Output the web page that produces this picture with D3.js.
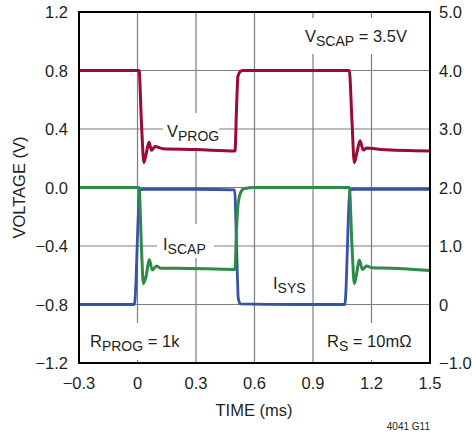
<!DOCTYPE html>
<html><head><meta charset="utf-8">
<script src="https://cdn.jsdelivr.net/npm/d3@7"></script>
<style>
body{margin:0;background:#fff;}
text{font-family:"Liberation Sans",Arial,sans-serif;fill:#231f20;}
</style></head>
<body><svg id="c" width="472" height="435"></svg>
<script>
// Data
const xTicks = [-0.3, 0, 0.3, 0.6, 0.9, 1.2, 1.5];
const xTickLabels = ["\u22120.3","0","0.3","0.6","0.9","1.2","1.5"];
const yLeftTicks = [1.2, 0.8, 0.4, 0, -0.4, -0.8, -1.2];
const yLeftLabels = ["1.2","0.8","0.4","0.0","\u22120.4","\u22120.8","\u22121.2"];
const yRightTicks = [5, 4, 3, 2, 1, 0, -1];
const yRightLabels = ["5.0","4.0","3.0","2.0","1.0","0","\u22121.0"];

const vprogT = [-0.3,0.008,0.02,0.033,0.046,0.059,0.072,0.09,0.13,0.3,0.5,0.508,0.515,0.525,0.539,0.6,1.086,1.1,1.112,1.127,1.141,1.158,1.175,1.25,1.5];
const vprogV = [0.8,0.8,0.45,0.17,0.24,0.31,0.255,0.28,0.265,0.26,0.25,0.55,0.76,0.79,0.8,0.8,0.8,0.45,0.17,0.25,0.32,0.256,0.27,0.26,0.25];

const iscapT = [-0.3,0.008,0.02,0.03,0.045,0.06,0.076,0.098,0.12,0.2,0.5,0.508,0.517,0.53,0.545,0.6,1.086,1.1,1.112,1.125,1.137,1.154,1.175,1.2,1.3,1.5];
const iscapV = [2.0,2.0,1.0,0.36,0.5,0.77,0.59,0.66,0.62,0.62,0.6,1.3,1.75,1.92,1.98,2.0,2.0,1.0,0.36,0.55,0.76,0.6,0.66,0.63,0.62,0.58];

const isysT = [-0.3,-0.016,0.012,0.03,0.3,0.498,0.508,0.517,0.528,0.8,1.063,1.09,1.11,1.5];
const isysV = [0,0,1.95,1.97,1.97,1.96,1.0,0.1,0.01,0,0,1.96,1.97,1.97];

const svg = d3.select("#c");
const L=79, R=430, T=12, B=363;
const x = d3.scaleLinear().domain([-0.3,1.5]).range([L,R]);
const yL = d3.scaleLinear().domain([-1.2,1.2]).range([B,T]);
const yR = d3.scaleLinear().domain([-1,5]).range([B,T]);

// grid
const g = svg.append("g");
xTicks.forEach(t=>{ g.append("line").attr("x1",x(t)).attr("x2",x(t)).attr("y1",T).attr("y2",B).attr("stroke","#7d7d7d").attr("stroke-width",1.2); });
yLeftTicks.forEach(t=>{ g.append("line").attr("x1",L).attr("x2",R).attr("y1",yL(t)).attr("y2",yL(t)).attr("stroke","#7d7d7d").attr("stroke-width",1.2); });

// label masks
const masks = [[302,18,108,36],[163,113,56,36],[157,224,57,34],[268,268,44,30],[86,323,96,37],[322,323,96,37]];
masks.forEach(m=>svg.append("rect").attr("x",m[0]).attr("y",m[1]).attr("width",m[2]).attr("height",m[3]).attr("fill","#fff"));

// traces
const lineL = d3.line().x(d=>x(d[0])).y(d=>yL(d[1])).curve(d3.curveMonotoneX);
const lineR = d3.line().x(d=>x(d[0])).y(d=>yR(d[1])).curve(d3.curveMonotoneX);
svg.append("path").attr("d",lineR(isysT.map((t,i)=>[t,isysV[i]]))).attr("fill","none").attr("stroke","#3852a4").attr("stroke-width",2.8).attr("stroke-linejoin","round");
svg.append("path").attr("d",lineR(iscapT.map((t,i)=>[t,iscapV[i]]))).attr("fill","none").attr("stroke","#2e8a47").attr("stroke-width",3).attr("stroke-linejoin","round");
svg.append("path").attr("d",lineL(vprogT.map((t,i)=>[t,vprogV[i]]))).attr("fill","none").attr("stroke","#9a0a33").attr("stroke-width",3).attr("stroke-linejoin","round");

// frame
svg.append("rect").attr("x",L).attr("y",T).attr("width",R-L).attr("height",B-T).attr("fill","none").attr("stroke","#000").attr("stroke-width",2);

// tick labels
const fs=16.5;
yLeftTicks.forEach((t,i)=>svg.append("text").attr("x",68).attr("y",yL(t)+6).attr("text-anchor","end").attr("font-size",fs).text(yLeftLabels[i]));
yRightTicks.forEach((t,i)=>svg.append("text").attr("x",439).attr("y",yR(t)+6).attr("text-anchor","start").attr("font-size",fs).text(yRightLabels[i]));
xTicks.forEach((t,i)=>svg.append("text").attr("x",x(t)).attr("y",389).attr("text-anchor","middle").attr("font-size",fs).text(xTickLabels[i]));

// axis titles
svg.append("text").attr("x",254).attr("y",416).attr("text-anchor","middle").attr("font-size",fs).text("TIME (ms)");
svg.append("text").attr("transform","translate(25,187.5) rotate(-90)").attr("text-anchor","middle").attr("font-size",fs).text("VOLTAGE (V)");
svg.append("text").attr("x",430).attr("y",430).attr("text-anchor","end").attr("font-size",10).text("4041 G11");

// annotations with subscripts
function sub(xp, yp, main, subs, rest){
  const t = svg.append("text").attr("x",xp).attr("y",yp).attr("font-size",fs);
  t.append("tspan").text(main);
  t.append("tspan").attr("font-size",14).attr("dy",4).text(subs);
  if(rest) t.append("tspan").attr("dy",-4).text(rest);
}
sub(305,42,"V","SCAP"," = 3.5V");
sub(167,137,"V","PROG","");
sub(163,250,"I","SCAP","");
sub(273,289,"I","SYS","");
sub(90,347,"R","PROG"," = 1k");
sub(327,347,"R","S"," = 10m\u03A9");
</script></body></html>
